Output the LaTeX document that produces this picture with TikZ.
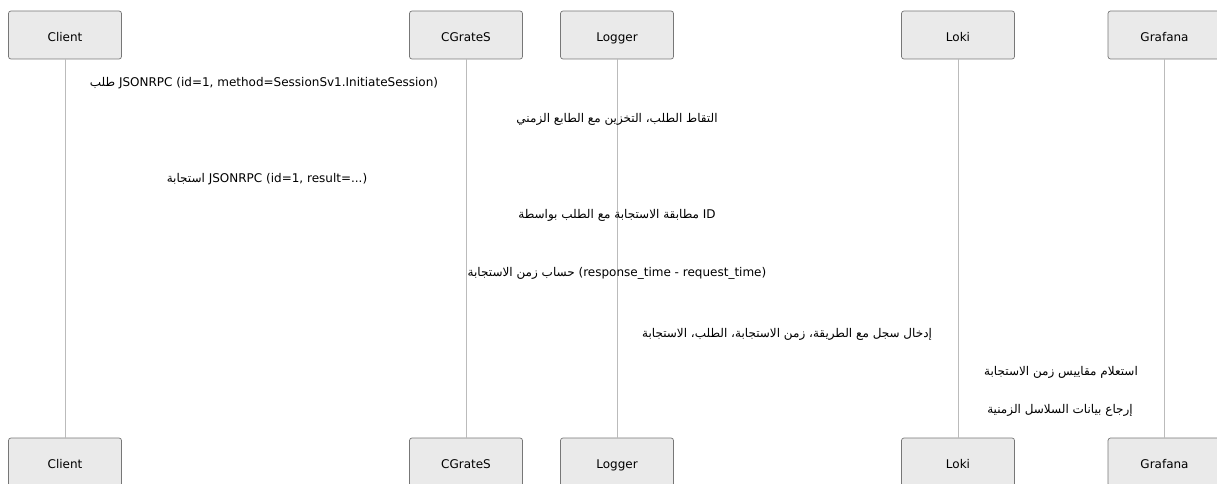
\documentclass[tikz,border=0pt]{standalone}
\usepackage{fontspec}
\setmainfont{DejaVu Sans}
\newfontfamily\arabicfont[Script=Arabic]{DejaVu Sans}
\TeXXeTstate=1
\definecolor{boxfill}{HTML}{EAEAEA}
\definecolor{boxline}{HTML}{777777}
\definecolor{lifeline}{HTML}{BBBBBB}
\tikzset{
  actor/.style={draw=boxline, fill=boxfill, rounded corners=2.5pt, line width=0.7pt,
    minimum width=113pt, minimum height=48pt, inner sep=0pt, text height=13pt, text depth=0pt,
    font=\fontsize{12}{14}\selectfont},
  life/.style={draw=lifeline, line width=1pt},
  msg/.style={inner sep=0pt, font=\fontsize{12}{14}\selectfont}
}
\begin{document}
\begin{tikzpicture}[x=1pt,y=-1pt]
\clip (0,0) rectangle (1217,484);
\node[actor] (ct) at (65,35) {Client};
\node[actor] (gt) at (466,35) {CGrateS};
\node[actor] (lt) at (617,35) {Logger};
\node[actor] (kt) at (958,35) {Loki};
\node[actor] (ft) at (1164.5,35) {Grafana};
\node[actor] (cb) at (65,462) {Client};
\node[actor] (gb) at (466,462) {CGrateS};
\node[actor] (lb) at (617,462) {Logger};
\node[actor] (kb) at (958,462) {Loki};
\node[actor] (fb) at (1164.5,462) {Grafana};
\draw[life] (ct.south) -- (cb.north);
\draw[life] (gt.south) -- (gb.north);
\draw[life] (lt.south) -- (lb.north);
\draw[life] (kt.south) -- (kb.north);
\draw[life] (ft.south) -- (fb.north);
\node[msg] (m1) at (264,83) {{\arabicfont\beginR طلب\endR} JSONRPC (id=1, method=SessionSv1.InitiateSession)};
\node[msg] (m2) at (617,119) {\arabicfont\beginR التقاط الطلب، التخزين مع الطابع الزمني\endR};
\node[msg] (m3) at (267,179) {{\arabicfont\beginR استجابة\endR} JSONRPC (id=1, result=...)};
\node[msg] (m4) at (617,215) {{\arabicfont\beginR مطابقة الاستجابة مع الطلب بواسطة\endR} ID};
\node[msg] (m5) at (617,273) {{\arabicfont\beginR حساب زمن الاستجابة\endR} (response\_time - request\_time)};
\node[msg] (m6) at (787,334) {\arabicfont\beginR إدخال سجل مع الطريقة، زمن الاستجابة، الطلب، الاستجابة\endR};
\node[msg] (m7) at (1061,372) {\arabicfont\beginR استعلام مقاييس زمن الاستجابة\endR};
\node[msg] (m8) at (1060,410) {\arabicfont\beginR إرجاع بيانات السلاسل الزمنية\endR};
\end{tikzpicture}
\end{document}
